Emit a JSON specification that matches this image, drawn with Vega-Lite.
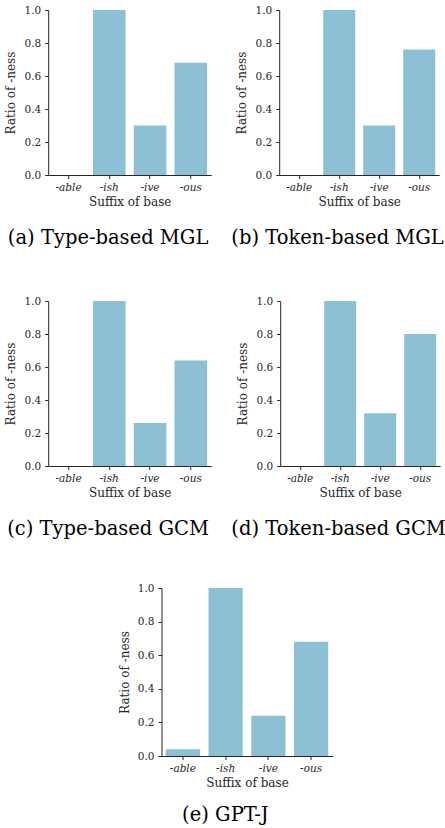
{
  "$schema": "https://vega.github.io/schema/vega-lite/v6.json",
  "padding": {"left": 4, "top": 5, "right": 4, "bottom": 0},
  "background": "white",
  "data": {"values": [
    {"panel": "a", "suffix": "-able", "ratio": 0.0},
    {"panel": "a", "suffix": "-ish", "ratio": 1.0},
    {"panel": "a", "suffix": "-ive", "ratio": 0.3},
    {"panel": "a", "suffix": "-ous", "ratio": 0.68},
    {"panel": "b", "suffix": "-able", "ratio": 0.0},
    {"panel": "b", "suffix": "-ish", "ratio": 1.0},
    {"panel": "b", "suffix": "-ive", "ratio": 0.3},
    {"panel": "b", "suffix": "-ous", "ratio": 0.76},
    {"panel": "c", "suffix": "-able", "ratio": 0.0},
    {"panel": "c", "suffix": "-ish", "ratio": 1.0},
    {"panel": "c", "suffix": "-ive", "ratio": 0.26},
    {"panel": "c", "suffix": "-ous", "ratio": 0.64},
    {"panel": "d", "suffix": "-able", "ratio": 0.0},
    {"panel": "d", "suffix": "-ish", "ratio": 1.0},
    {"panel": "d", "suffix": "-ive", "ratio": 0.32},
    {"panel": "d", "suffix": "-ous", "ratio": 0.8},
    {"panel": "e", "suffix": "-able", "ratio": 0.04},
    {"panel": "e", "suffix": "-ish", "ratio": 1.0},
    {"panel": "e", "suffix": "-ive", "ratio": 0.24},
    {"panel": "e", "suffix": "-ous", "ratio": 0.68}
  ]},
  "config": {
    "view": {"stroke": null},
    "font": "DejaVu Serif",
    "axis": {
      "grid": false,
      "domainColor": "#262626",
      "tickColor": "#262626",
      "tickSize": 3.5,
      "labelFont": "DejaVu Serif",
      "titleFont": "DejaVu Serif",
      "labelFontSize": 10.5,
      "titleFontSize": 12,
      "titleFontWeight": "normal",
      "labelColor": "#262626",
      "titleColor": "#262626"
    },
    "axisX": {"labelAngle": 0, "labelFontStyle": "italic", "titlePadding": 3, "labelPadding": 4},
    "axisY": {"titlePadding": 6, "labelPadding": 4},
    "scale": {"bandPaddingInner": 0.2, "bandPaddingOuter": 0.1},
    "title": {"font": "DejaVu Serif", "fontSize": 19.5, "fontWeight": "normal", "orient": "bottom", "anchor": "middle", "frame": "bounds", "offset": 22, "color": "#000000"},
    "concat": {"spacing": 20}
  },
  "vconcat": [
    {
      "vconcat": [
        {
          "hconcat": [
            {
              "title": "(a) Type-based MGL",
              "width": 163, "height": 165,
              "transform": [{"filter": "datum.panel === 'a'"}],
              "mark": {"type": "bar", "color": "#8dc0d5"},
              "encoding": {
                "x": {"field": "suffix", "type": "nominal", "sort": ["-able", "-ish", "-ive", "-ous"], "title": "Suffix of base"},
                "y": {"field": "ratio", "type": "quantitative", "scale": {"domain": [0, 1]}, "axis": {"values": [0, 0.2, 0.4, 0.6, 0.8, 1.0], "format": ".1f"}, "title": "Ratio of -ness"}
              }
            },
            {
              "title": "(b) Token-based MGL",
              "width": 160, "height": 165,
              "transform": [{"filter": "datum.panel === 'b'"}],
              "mark": {"type": "bar", "color": "#8dc0d5"},
              "encoding": {
                "x": {"field": "suffix", "type": "nominal", "sort": ["-able", "-ish", "-ive", "-ous"], "title": "Suffix of base"},
                "y": {"field": "ratio", "type": "quantitative", "scale": {"domain": [0, 1]}, "axis": {"values": [0, 0.2, 0.4, 0.6, 0.8, 1.0], "format": ".1f"}, "title": "Ratio of -ness"}
              }
            }
          ]
        },
        {
          "hconcat": [
            {
              "title": "(c) Type-based GCM",
              "width": 163, "height": 165,
              "transform": [{"filter": "datum.panel === 'c'"}],
              "mark": {"type": "bar", "color": "#8dc0d5"},
              "encoding": {
                "x": {"field": "suffix", "type": "nominal", "sort": ["-able", "-ish", "-ive", "-ous"], "title": "Suffix of base"},
                "y": {"field": "ratio", "type": "quantitative", "scale": {"domain": [0, 1]}, "axis": {"values": [0, 0.2, 0.4, 0.6, 0.8, 1.0], "format": ".1f"}, "title": "Ratio of -ness"}
              }
            },
            {
              "title": "(d) Token-based GCM",
              "width": 160, "height": 165,
              "transform": [{"filter": "datum.panel === 'd'"}],
              "mark": {"type": "bar", "color": "#8dc0d5"},
              "encoding": {
                "x": {"field": "suffix", "type": "nominal", "sort": ["-able", "-ish", "-ive", "-ous"], "title": "Suffix of base"},
                "y": {"field": "ratio", "type": "quantitative", "scale": {"domain": [0, 1]}, "axis": {"values": [0, 0.2, 0.4, 0.6, 0.8, 1.0], "format": ".1f"}, "title": "Ratio of -ness"}
              }
            }
          ]
        }
      ],
      "spacing": 48
    },
    {
      "title": {"text": "(e) GPT-J", "offset": 18},
      "width": 171, "height": 168,
      "transform": [{"filter": "datum.panel === 'e'"}],
      "mark": {"type": "bar", "color": "#8dc0d5"},
      "encoding": {
        "x": {"field": "suffix", "type": "nominal", "sort": ["-able", "-ish", "-ive", "-ous"], "title": "Suffix of base"},
        "y": {"field": "ratio", "type": "quantitative", "scale": {"domain": [0, 1]}, "axis": {"values": [0, 0.2, 0.4, 0.6, 0.8, 1.0], "format": ".1f"}, "title": "Ratio of -ness"}
      }
    }
  ],
  "spacing": 44,
  "center": true
}
